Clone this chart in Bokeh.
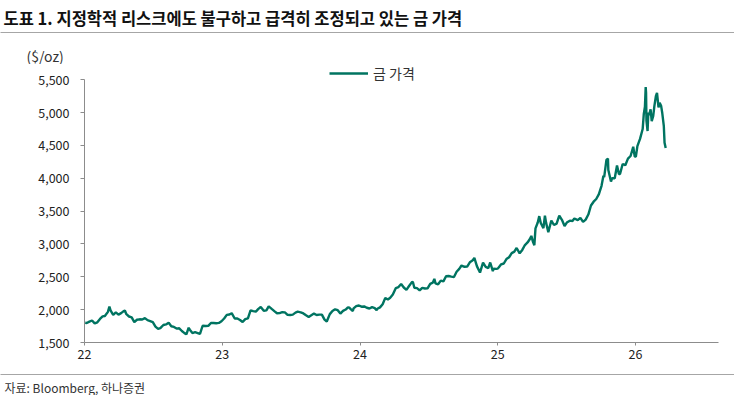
import datetime
from bokeh.plotting import figure
from bokeh.layouts import column
from bokeh.models import (Range1d, FixedTicker, NumeralTickFormatter, Label,
                          Legend, LegendItem, LinearAxis)
from bokeh.embed import file_html
from bokeh.resources import INLINE

# ---------------- data (gold price, $/oz) ----------------
dates_2022 = ["2022-01-03", "2022-01-07", "2022-01-14", "2022-01-21", "2022-01-28", "2022-02-04",
              "2022-02-11", "2022-02-18", "2022-02-24", "2022-03-01", "2022-03-04", "2022-03-08",
              "2022-03-11", "2022-03-18", "2022-03-25", "2022-04-01", "2022-04-08", "2022-04-14",
              "2022-04-18", "2022-04-22", "2022-04-29", "2022-05-06", "2022-05-13", "2022-05-20",
              "2022-05-27", "2022-06-03", "2022-06-10", "2022-06-17", "2022-06-24", "2022-07-01",
              "2022-07-08", "2022-07-15", "2022-07-21", "2022-07-29", "2022-08-05", "2022-08-12",
              "2022-08-19", "2022-08-26", "2022-09-02", "2022-09-09", "2022-09-16", "2022-09-23",
              "2022-09-28", "2022-10-04", "2022-10-07", "2022-10-14", "2022-10-21", "2022-10-28",
              "2022-11-03", "2022-11-10", "2022-11-18", "2022-11-25", "2022-12-02", "2022-12-09",
              "2022-12-16", "2022-12-23", "2022-12-30"]
gold_2022 = [1801, 1797, 1817, 1835, 1791, 1808, 1859, 1898, 1903, 1943, 1966, 2045,
             1988, 1921, 1958, 1925, 1947, 1974, 1986, 1931, 1896, 1883, 1811, 1846,
             1853, 1850, 1871, 1840, 1827, 1811, 1742, 1708, 1718, 1766, 1775, 1802,
             1747, 1737, 1712, 1716, 1675, 1643, 1625, 1725, 1695, 1644, 1657, 1644,
             1630, 1755, 1751, 1754, 1797, 1797, 1793, 1798, 1824]

dates_2023 = ["2023-01-06", "2023-01-13", "2023-01-20", "2023-01-26", "2023-02-03", "2023-02-10",
              "2023-02-17", "2023-02-24", "2023-03-03", "2023-03-10", "2023-03-17", "2023-03-24",
              "2023-03-31", "2023-04-06", "2023-04-13", "2023-04-21", "2023-04-28", "2023-05-04",
              "2023-05-12", "2023-05-19", "2023-05-26", "2023-06-02", "2023-06-09", "2023-06-16",
              "2023-06-23", "2023-06-30", "2023-07-07", "2023-07-14", "2023-07-20", "2023-07-28",
              "2023-08-04", "2023-08-11", "2023-08-18", "2023-08-25", "2023-09-01", "2023-09-08",
              "2023-09-15", "2023-09-22", "2023-09-29", "2023-10-05", "2023-10-13", "2023-10-20",
              "2023-10-27", "2023-11-03", "2023-11-10", "2023-11-17", "2023-11-24", "2023-11-30",
              "2023-12-04", "2023-12-08", "2023-12-13", "2023-12-15", "2023-12-22", "2023-12-29"]
gold_2023 = [1865, 1920, 1926, 1946, 1865, 1865, 1842, 1811, 1856, 1868, 1989, 1978,
             1969, 2008, 2040, 1983, 1990, 2050, 2011, 1978, 1946, 1948, 1961, 1958,
             1921, 1919, 1925, 1955, 1969, 1959, 1943, 1914, 1889, 1915, 1940, 1919,
             1924, 1925, 1848, 1820, 1932, 1981, 2006, 1992, 1940, 1981, 2002, 2036,
             2030, 2004, 1980, 2019, 2053, 2063]

dates_2024 = ["2024-01-05", "2024-01-12", "2024-01-19", "2024-01-26", "2024-02-02", "2024-02-09",
              "2024-02-14", "2024-02-16", "2024-02-23", "2024-03-01", "2024-03-08", "2024-03-15",
              "2024-03-21", "2024-03-28", "2024-04-05", "2024-04-12", "2024-04-19", "2024-04-26",
              "2024-05-03", "2024-05-10", "2024-05-17", "2024-05-20", "2024-05-24", "2024-05-31",
              "2024-06-07", "2024-06-14", "2024-06-21", "2024-06-28", "2024-07-05", "2024-07-12",
              "2024-07-16", "2024-07-19", "2024-07-26", "2024-08-02", "2024-08-09", "2024-08-16",
              "2024-08-23", "2024-08-30", "2024-09-06", "2024-09-13", "2024-09-20", "2024-09-26",
              "2024-10-04", "2024-10-11", "2024-10-18", "2024-10-25", "2024-10-30", "2024-11-06",
              "2024-11-14", "2024-11-22", "2024-11-29", "2024-12-06", "2024-12-11", "2024-12-18",
              "2024-12-20", "2024-12-27", "2024-12-31"]
gold_2024 = [2045, 2049, 2029, 2018, 2039, 2024, 1992, 2013, 2035, 2083, 2179, 2155,
             2181, 2230, 2329, 2344, 2391, 2337, 2302, 2360, 2415, 2425, 2334, 2327,
             2294, 2333, 2322, 2326, 2392, 2411, 2469, 2400, 2386, 2443, 2431, 2508,
             2512, 2503, 2497, 2577, 2621, 2672, 2653, 2657, 2721, 2747, 2788, 2659,
             2565, 2715, 2650, 2633, 2718, 2586, 2622, 2621, 2625]

dates_2025 = ["2025-01-03", "2025-01-10", "2025-01-17", "2025-01-24", "2025-01-31", "2025-02-07",
              "2025-02-14", "2025-02-20", "2025-02-28", "2025-03-07", "2025-03-14", "2025-03-21",
              "2025-03-28", "2025-03-31", "2025-04-04", "2025-04-08", "2025-04-11", "2025-04-17",
              "2025-04-21", "2025-04-25", "2025-05-02", "2025-05-06", "2025-05-09", "2025-05-15",
              "2025-05-23", "2025-05-30", "2025-06-06", "2025-06-13", "2025-06-20", "2025-06-27",
              "2025-07-03", "2025-07-11", "2025-07-18", "2025-07-23", "2025-08-01", "2025-08-08",
              "2025-08-15", "2025-08-22", "2025-08-29", "2025-09-05", "2025-09-12", "2025-09-19",
              "2025-09-26", "2025-10-03", "2025-10-08", "2025-10-10", "2025-10-16", "2025-10-20",
              "2025-10-21", "2025-10-28", "2025-10-31", "2025-11-07", "2025-11-13", "2025-11-18",
              "2025-11-21", "2025-11-28", "2025-12-05", "2025-12-12", "2025-12-19", "2025-12-26",
              "2025-12-30"]
gold_2025 = [2640, 2690, 2703, 2770, 2798, 2861, 2883, 2939, 2858, 2910, 2984, 3023,
             3084, 3123, 3037, 2982, 3237, 3327, 3424, 3319, 3240, 3430, 3325, 3180,
             3357, 3289, 3310, 3432, 3368, 3274, 3326, 3355, 3350, 3388, 3363, 3398,
             3336, 3371, 3448, 3586, 3644, 3685, 3760, 3886, 4040, 4018, 4280, 4300,
             4125, 3950, 4003, 4000, 4195, 4065, 4065, 4218, 4200, 4300, 4340, 4480,
             4330]

dates_2026 = ["2026-01-02", "2026-01-06", "2026-01-13", "2026-01-20", "2026-01-23", "2026-01-26",
              "2026-01-28", "2026-01-29", "2026-01-30", "2026-02-02", "2026-02-04", "2026-02-06",
              "2026-02-10", "2026-02-13", "2026-02-17", "2026-02-20", "2026-02-24", "2026-02-27",
              "2026-03-03", "2026-03-06", "2026-03-10", "2026-03-13", "2026-03-17", "2026-03-19",
              "2026-03-22"]
gold_2026 = [4330, 4490, 4600, 4750, 4980, 5090, 5390, 5300, 4880, 4720, 5000, 4960,
             5050, 4870, 4950, 5100, 5250, 5300, 5080, 5150, 5100, 4990, 4800, 4540,
             4460]

x_ticks = [22, 23, 24, 25, 26]
x_tick_labels = ["22", "23", "24", "25", "26"]
y_ticks = [1500, 2000, 2500, 3000, 3500, 4000, 4500, 5000, 5500]

title_text = "도표 1. 지정학적 리스크에도 불구하고 급격히 조정되고 있는 금 가격"
unit_text = "($/oz)"
series_name = "금 가격"
source_text = "자료: Bloomberg, 하나증권"


def frac_year(d):
    dt = datetime.date.fromisoformat(d)
    return dt.year - 2000 + (dt.timetuple().tm_yday - 1) / 365.0


all_dates = dates_2022 + dates_2023 + dates_2024 + dates_2025 + dates_2026
all_gold = gold_2022 + gold_2023 + gold_2024 + gold_2025 + gold_2026
xs = [frac_year(d) for d in all_dates]

FONT = "Noto Sans CJK KR"
LINE_COLOR = "#007461"
RULE_COLOR = "#a6a6a6"
AXIS_COLOR = "#8c8c8c"
W = 734


def blank_fig(h, top=0, bottom=0):
    f = figure(width=W, height=h, output_backend="svg", toolbar_location=None,
               x_range=Range1d(0, W), y_range=Range1d(0, h),
               x_axis_location=None, y_axis_location=None,
               min_border=0, min_border_left=0, min_border_right=0,
               min_border_top=top, min_border_bottom=bottom)
    f.outline_line_color = None
    f.xgrid.visible = False
    f.ygrid.visible = False
    f.frame_align = False
    return f


def rule_axis():
    # an axis with only its line: used as a full-width horizontal rule
    ax = LinearAxis(ticker=FixedTicker(ticks=[]), axis_line_color=RULE_COLOR,
                    axis_line_width=1, major_tick_line_color=None,
                    minor_tick_line_color=None, major_label_text_font_size="0px",
                    major_tick_in=0, major_tick_out=0, minor_tick_in=0, minor_tick_out=0,
                    major_label_standoff=0)
    return ax


# ---------------- header (page y 0..33): title + rule ----------------
HH = 33
header = blank_fig(HH, bottom=1)
header.add_layout(rule_axis(), "below")
header.add_layout(Label(x=3, y=(HH - 1) - 17, x_units="screen", y_units="screen",
                        text=title_text, text_font=FONT, text_font_size="16.5px",
                        text_font_style="bold", text_color="#111111",
                        text_baseline="middle", text_align="left"))

# ---------------- unit row (page y 33..64) ----------------
UH = 31
unit = blank_fig(UH)
unit.add_layout(Label(x=26, y=64 - 55, x_units="screen", y_units="screen",
                      text=unit_text, text_font=FONT, text_font_size="14px",
                      text_color="#333333", text_baseline="middle", text_align="left"))

# ---------------- main chart (page y 64..368) ----------------
PX_PER_YEAR = 137.75
Y0_PAGE, Y5500_PAGE, Y1500_PAGE = 64, 79.3, 342.0
ML, MR = 84, 16
frame_h = Y1500_PAGE - Y0_PAGE
MB = 26
MH = int(round(frame_h + MB))
frame_w = W - ML - MR
y_top = 5500 + (Y5500_PAGE - Y0_PAGE) / (Y1500_PAGE - Y5500_PAGE) * 4000

p = figure(width=W, height=MH, output_backend="svg", toolbar_location=None,
           x_range=Range1d(22, 22 + frame_w / PX_PER_YEAR), y_range=Range1d(1500, y_top),
           min_border_left=ML, min_border_right=MR, min_border_top=0, min_border_bottom=MB)
p.outline_line_color = None
p.xgrid.visible = False
p.ygrid.visible = False
p.frame_align = False

for ax in (p.xaxis[0], p.yaxis[0]):
    ax.axis_line_color = AXIS_COLOR
    ax.major_tick_line_color = AXIS_COLOR
    ax.minor_tick_line_color = None
    ax.major_tick_in = 0
    ax.major_label_text_font = FONT
    ax.major_label_text_font_size = "12.5px"
    ax.major_label_text_color = "#222222"

p.xaxis[0].ticker = FixedTicker(ticks=x_ticks)
p.xaxis[0].major_label_overrides = {t: s for t, s in zip(x_ticks, x_tick_labels)}
p.xaxis[0].major_tick_out = 3
p.xaxis[0].major_label_standoff = 3

p.yaxis[0].ticker = FixedTicker(ticks=y_ticks)
p.yaxis[0].formatter = NumeralTickFormatter(format="0,0")
p.yaxis[0].major_tick_out = 4
p.yaxis[0].major_label_standoff = 11
p.yaxis[0].bounds = (y_ticks[0], y_ticks[-1])

r = p.line(xs, all_gold, line_color=LINE_COLOR, line_width=2.4)

legend = Legend(items=[LegendItem(label=series_name, renderers=[r])],
                location=(245, 259), orientation="horizontal",
                glyph_width=39, glyph_height=16, label_height=16, label_standoff=5,
                padding=0, margin=0, spacing=0,
                label_text_font=FONT, label_text_font_size="14px", label_text_color="#333333",
                border_line_color=None, background_fill_alpha=0)
p.add_layout(legend, "center")

# ---------------- footer (page y 368..395): rule + source ----------------
FH = 27
footer = blank_fig(FH, top=6)
footer.add_layout(rule_axis(), "above")
footer.add_layout(Label(x=4, y=8.5, x_units="screen", y_units="screen",
                        text=source_text, text_font=FONT, text_font_size="12px",
                        text_color="#333333", text_baseline="middle", text_align="left"))

layout = column(header, unit, p, footer, spacing=0)
open("out.html", "w").write(file_html(layout, INLINE))
